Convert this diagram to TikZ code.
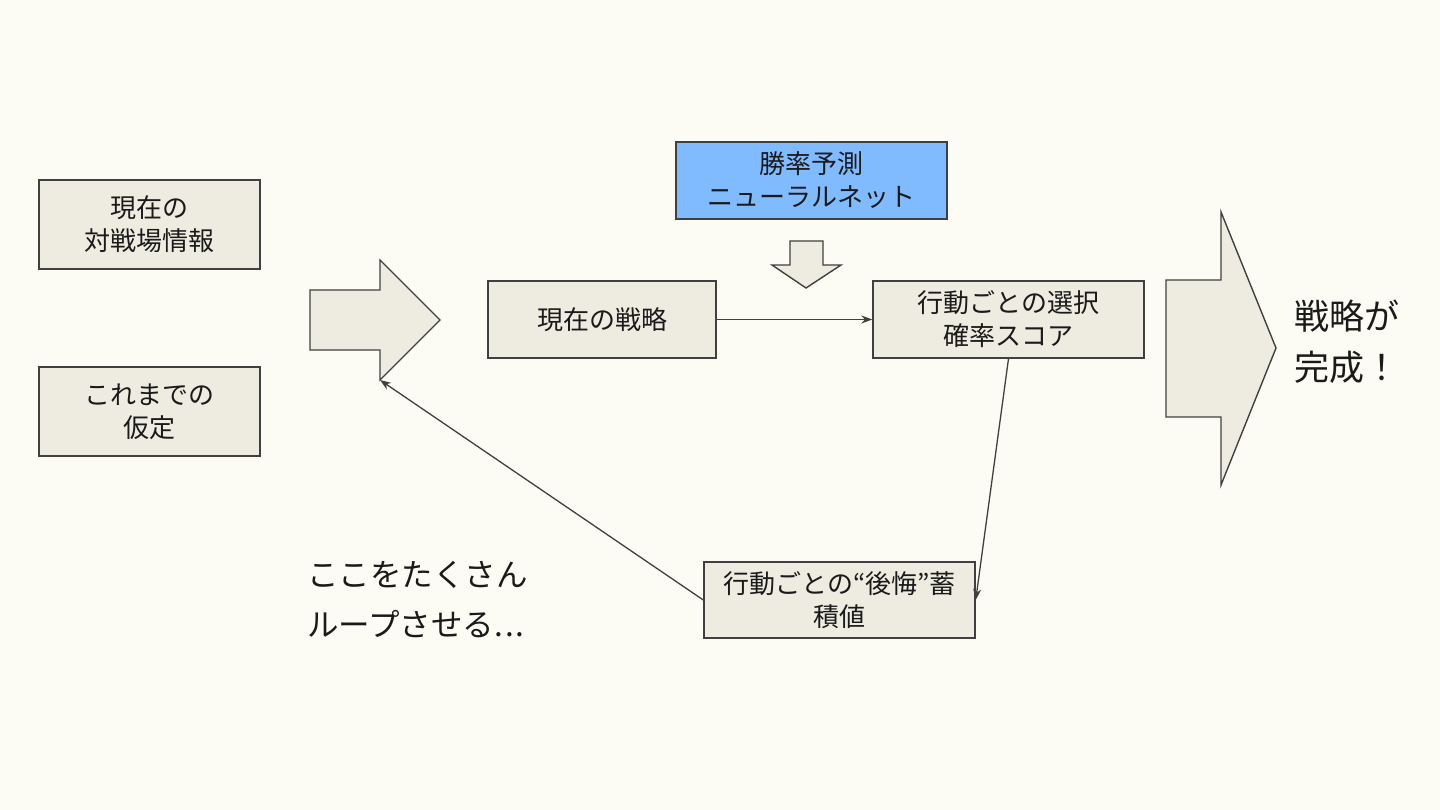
\documentclass[tikz,border=0pt]{standalone}
\usepackage{fontspec}
\setmainfont{Noto Sans CJK JP}
\usetikzlibrary{arrows.meta}
\definecolor{bgc}{RGB}{252,252,244}
\definecolor{boxfill}{RGB}{238,236,225}
\definecolor{edgec}{RGB}{64,64,64}
\definecolor{bluefill}{RGB}{128,186,255}
\definecolor{txt}{RGB}{26,26,26}
\tikzset{
  box/.style={draw=edgec, line width=1.4pt, fill=boxfill, rectangle, align=center,
    text=txt, font=\fontsize{26pt}{33pt}\selectfont, inner sep=0pt},
  bigarrow/.style={draw=edgec, line width=1.4pt, fill=boxfill, line join=miter},
  conn/.style={draw=edgec, line width=1.3pt, -{Stealth[length=11pt,width=8pt]}},
  bigtext/.style={align=left, text=txt, inner sep=0pt, anchor=north west}
}
\begin{document}
\begin{tikzpicture}[x=1pt,y=-1pt]
\useasboundingbox[fill=bgc] (0,0) rectangle (1440,810);
% boxes
\node[box, minimum width=221pt, minimum height=89pt] (info) at (149.5,224.5) {現在の\\対戦場情報};
\node[box, minimum width=221pt, minimum height=89pt] (assume) at (149.5,411.5) {これまでの\\仮定};
\node[box, minimum width=228pt, minimum height=77pt] (strat) at (602,319.5) {現在の戦略};
\node[box, fill=bluefill, minimum width=271pt, minimum height=77pt] (nn) at (811.5,180.5) {勝率予測\\ニューラルネット};
\node[box, minimum width=271pt, minimum height=77pt] (score) at (1008.5,319.5) {行動ごとの選択\\確率スコア};
\node[box, minimum width=271pt, minimum height=76pt] (regret) at (839.5,600) {行動ごとの“後悔”蓄\\積値};
% left big arrow
\draw[bigarrow] (310,290) -- (380,290) -- (380,260) -- (440,320) -- (380,380) -- (380,350) -- (310,350) -- cycle;
\coordinate (lahead) at (380,380);
% down arrow
\draw[bigarrow] (790,241) -- (823,241) -- (823,265) -- (841,265) -- (806,288) -- (772,265) -- (790,265) -- cycle;
% right big arrow
\draw[bigarrow] (1166,280) -- (1221,280) -- (1221,212) -- (1276,348) -- (1221,485) -- (1221,417) -- (1166,417) -- cycle;
% connectors
\draw[conn] (strat.east) -- (score.west);
\draw[conn] (score.south) -- (regret.east);
\draw[conn] (regret.west) -- (lahead);
% texts
\node[bigtext, font=\fontsize{35pt}{51pt}\selectfont] (done) at (1294,300) {戦略が\\完成！};
\node[bigtext, font=\fontsize{31.5pt}{50pt}\selectfont] (loop) at (307,561) {ここをたくさん\\ループさせる.\kern2pt.\kern2pt.};
\end{tikzpicture}
\end{document}
